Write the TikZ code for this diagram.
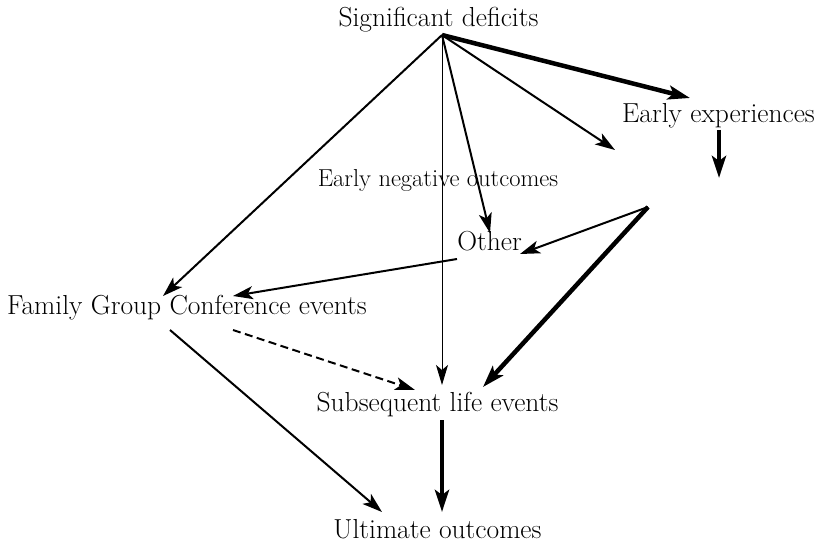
\documentclass[tikz,border=0pt]{standalone}
\usetikzlibrary{arrows.meta}
\begin{document}
\begin{tikzpicture}[x=1bp,y=-1bp,
  lbl/.style={inner sep=0pt,anchor=base,font=\fontsize{27.6}{32}\selectfont},
  smalllbl/.style={inner sep=0pt,anchor=base,font=\fontsize{24.6}{29}\selectfont},
  thinarr/.style={line width=1bp,-{Stealth[length=20bp,width=12bp,inset=5bp]}},
  medarr/.style={line width=2bp,-{Stealth[length=20bp,width=13bp,inset=5bp]}},
  thickarr/.style={line width=4.5bp,-{Stealth[length=22bp,width=14bp,inset=5bp]}},
  dasharr/.style={medarr,dash pattern=on 8bp off 4.5bp}]
\useasboundingbox (0,0) rectangle (818,544);
% labels
\node[lbl] (sd)  at (438.5,27)  {Significant deficits};
\node[lbl] (ee)  at (718.5,123) {Early experiences};
\node[smalllbl] (eno) at (438,187) {Early negative outcomes};
\node[lbl] (oth) at (489.5,251) {Other};
\node[lbl] (fgc) at (187,315) {Family Group Conference events};
\node[lbl] (sle) at (437.5,411) {Subsequent life events};
\node[lbl] (uo)  at (437.5,538) {Ultimate outcomes};
% connector points
\coordinate (hub) at (442,35);
\coordinate (eeIn) at (690,98);
\coordinate (free1) at (615,150);
\coordinate (othIn) at (490,233);
\coordinate (sleInTop) at (442,385);
\coordinate (fgcIn) at (163,296);
\coordinate (eeOut) at (719,130);
\coordinate (free2) at (719,178);
\coordinate (apex) at (648,207);
\coordinate (othIn2) at (520,254);
\coordinate (sleInR) at (483,387);
\coordinate (othOut) at (457,259);
\coordinate (fgcIn2) at (233,296);
\coordinate (fgcOut1) at (233,330);
\coordinate (sleInL) at (415,390);
\coordinate (fgcOut2) at (170,330);
\coordinate (uoInL) at (382,512);
\coordinate (sleOut) at (442,420);
\coordinate (uoIn) at (442,512);
% connectors
\draw[thickarr] (hub) -- (eeIn);
\draw[medarr] (hub) -- (free1);
\draw[medarr] (hub) -- (othIn);
\draw[thinarr] (hub) -- (sleInTop);
\draw[medarr] (hub) -- (fgcIn);
\draw[thickarr] (eeOut) -- (free2);
\draw[medarr] (apex) -- (othIn2);
\draw[thickarr] (apex) -- (sleInR);
\draw[medarr] (othOut) -- (fgcIn2);
\draw[dasharr] (fgcOut1) -- (sleInL);
\draw[medarr] (fgcOut2) -- (uoInL);
\draw[thickarr] (sleOut) -- (uoIn);
\end{tikzpicture}
\end{document}
